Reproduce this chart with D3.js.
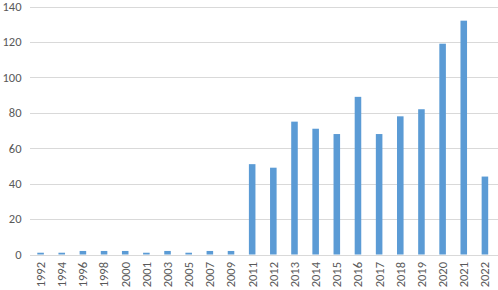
<!DOCTYPE html>
<html><head><meta charset="utf-8">
<script src="https://cdn.jsdelivr.net/npm/d3@7"></script>
<style>body{margin:0;background:#fff}svg{display:block}</style>
</head><body>
<svg id="chart" width="498" height="290"></svg>
<script>
const categories = ["1992","1994","1996","1998","2000","2001","2003","2005","2007","2009","2011","2012","2013","2014","2015","2016","2017","2018","2019","2020","2021","2022"];
const values = [1,1,2,2,2,1,2,1,2,2,51,49,75,71,68,89,68,78,82,119,132,44];
const yTicks = [0,20,40,60,80,100,120,140];

(function(){
const svg = d3.select("#chart");
const W = 498;
const mLeft = 30, mRight = 495.5, mTop = 6.5, mBottom = 254.5;
const font = "Calibri, Carlito, Lato, 'Open Sans', sans-serif";

const x = d3.scaleBand().domain(categories).range([mLeft, mRight]).paddingInner(0.69).paddingOuter(0.345);
const y = d3.scaleLinear().domain([0,140]).range([mBottom, mTop]);

svg.append("g").selectAll("line").data(yTicks).join("line")
  .attr("x1", mLeft).attr("x2", W)
  .attr("y1", d => Math.round(y(d)) + 0.5).attr("y2", d => Math.round(y(d)) + 0.5)
  .attr("stroke", "#d9d9d9").attr("stroke-width", 1);

svg.append("g").selectAll("text").data(yTicks).join("text")
  .attr("x", 21.5).attr("y", d => y(d)).attr("dy", "0.35em")
  .attr("text-anchor", "end").attr("fill", "#595959")
  .style("font-family", font).style("font-size", "12.5px")
  .text(d => d);

svg.append("g").selectAll("rect").data(values).join("rect")
  .attr("x", (d,i) => x(categories[i]))
  .attr("width", x.bandwidth())
  .attr("y", d => y(d))
  .attr("height", d => y(0) - y(d))
  .attr("fill", "#5b9bd5");

svg.append("g").selectAll("text").data(categories).join("text")
  .attr("transform", d => `translate(${x(d) + x.bandwidth()/2},262) rotate(-90)`)
  .attr("text-anchor", "end").attr("dy", "0.35em")
  .attr("fill", "#595959")
  .style("font-family", font).style("font-size", "12.5px")
  .text(d => d);
})();
</script>
</body></html>
